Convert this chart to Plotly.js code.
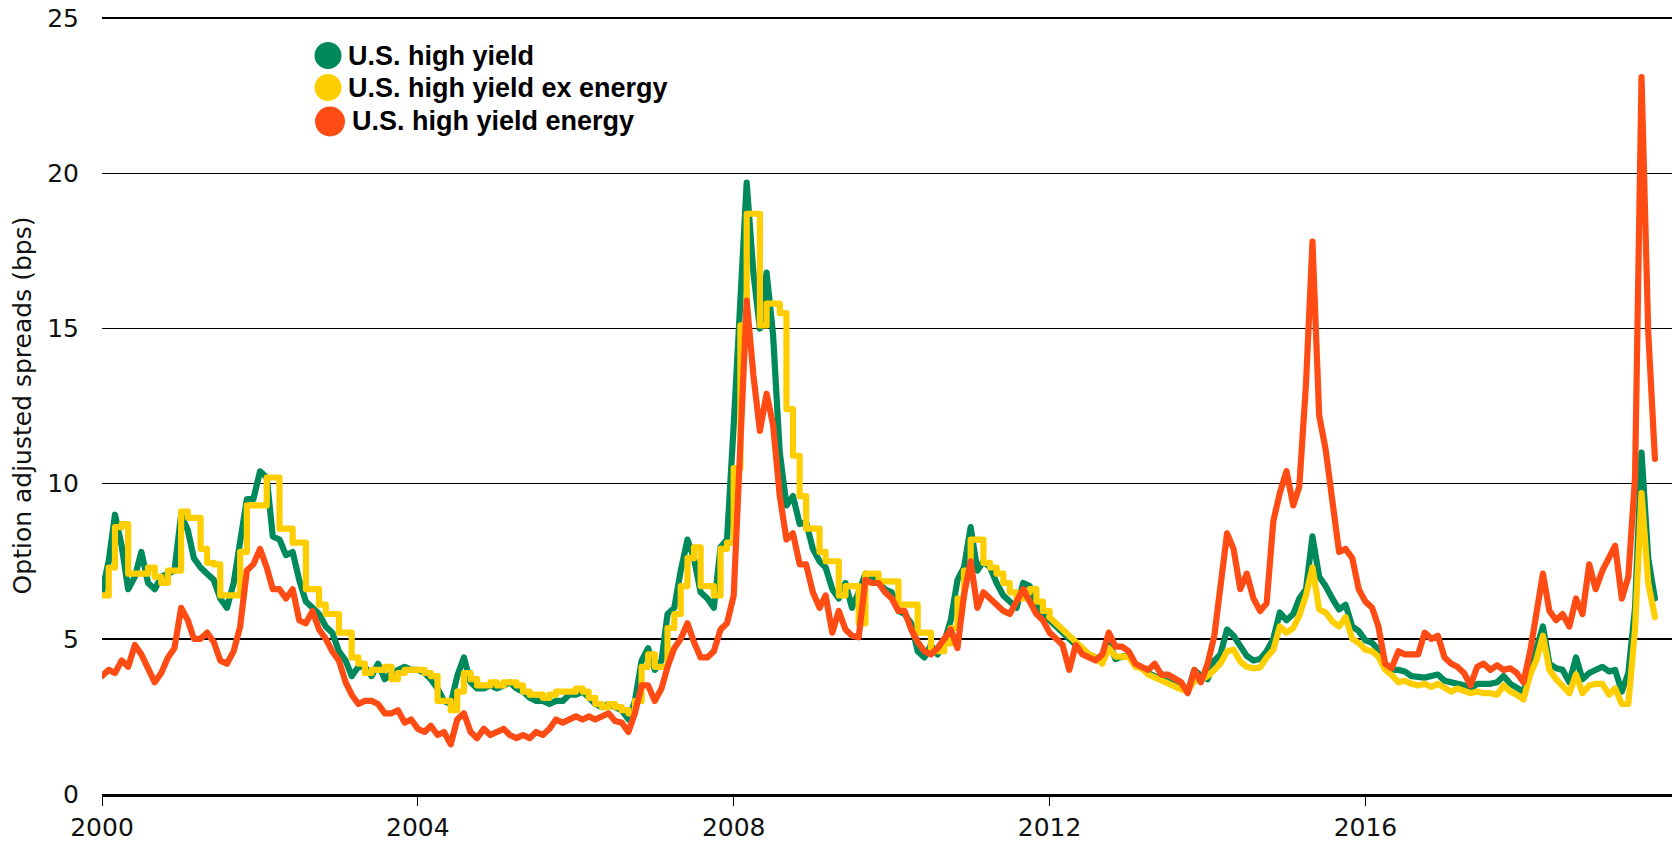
<!DOCTYPE html>
<html><head><meta charset="utf-8">
<script src="https://cdn.plot.ly/plotly-3.0.1.min.js"></script>
<style>
html,body{margin:0;padding:0;background:#fff}
.scatterlayer path.js-line{stroke-linejoin:round;stroke-linecap:round}
</style>
</head><body>
<div id="chart" style="width:1674px;height:842px"></div>
<script>
// Monthly observations, first month = January 2000
const firstYear = 2000;
const seriesNames = ['U.S. high yield', 'U.S. high yield ex energy', 'U.S. high yield energy'];
const xTickYears = ['2000', '2004', '2008', '2012', '2016'];
const yTickValues = [0, 5, 10, 15, 20, 25];
const yTitle = 'Option adjusted spreads (bps)';

const highYield = [
  6.5, 7.5, 9.0, 8.0, 6.6, 7.0, 7.8, 6.8, 6.6, 7.0, 7.1, 7.2,
  9.0, 8.5, 7.6, 7.3, 7.1, 6.9, 6.3, 6.0, 6.8, 8.0, 9.5, 9.5,
  10.4, 10.2, 8.3, 8.2, 7.7, 7.8, 6.9, 6.2, 6.0, 5.8, 5.4, 5.2,
  4.6, 4.3, 3.8, 4.1, 4.1, 3.8, 4.2, 3.7, 3.9, 4.0, 4.1, 4.0,
  4.0, 3.9, 3.7, 3.4, 3.0, 2.9, 3.8, 4.4, 3.6, 3.4, 3.4, 3.5,
  3.4, 3.5, 3.6, 3.4, 3.3, 3.1, 3.0, 3.0, 2.9, 3.0, 3.0, 3.2,
  3.2, 3.3, 3.1, 2.9, 2.8, 2.9, 2.8, 2.7, 2.4, 3.0, 4.3, 4.7,
  4.0, 4.3, 5.8, 6.0, 7.2, 8.2, 7.6, 6.5, 6.3, 6.0, 7.95, 8.2,
  11.9, 15.5, 19.7, 16.8, 15.0, 16.8, 14.8, 11.0, 9.3, 9.6, 8.7, 8.75,
  7.9, 7.5, 7.3, 6.6, 6.3, 6.8, 6.0, 6.5, 7.1, 7.0, 6.8, 6.6,
  6.5, 5.9, 5.8, 5.5, 4.6, 4.4, 4.8, 4.5, 4.9, 5.6, 6.9, 7.3,
  8.6, 7.2, 7.5, 7.3, 6.8, 6.4, 6.2, 6.0, 6.8, 6.7, 6.1, 5.8,
  5.6, 5.4, 5.2, 5.0, 4.8, 4.6, 4.5, 4.4, 4.3, 4.9, 4.35, 4.43,
  4.45, 4.2, 4.05, 3.9, 3.8, 3.68, 3.62, 3.55, 3.44, 3.3, 4.0, 3.8,
  3.7, 4.3, 4.5, 5.3, 5.1, 4.75, 4.45, 4.3, 4.35, 4.6, 5.0, 5.85,
  5.6, 5.8, 6.3, 6.6, 8.3, 7.0, 6.7, 6.3, 5.95, 6.1, 5.4, 5.25,
  4.95, 4.87, 4.65, 4.1, 4.0, 4.0, 3.95, 3.8, 3.75, 3.75, 3.8, 3.85,
  3.65, 3.6, 3.6, 3.5, 3.4, 3.55, 3.55, 3.55, 3.6, 3.8, 3.55, 3.4,
  3.3, 4.0, 4.6, 5.4, 4.2, 4.05, 4.0, 3.6, 4.4, 3.7, 3.9, 4.0,
  4.1, 3.95, 4.0, 3.3, 3.9, 6.0, 11.0, 7.6, 6.3
];

const highYieldExEnergy = [
  6.4, 7.3, 8.6, 8.7, 7.1, 7.1, 7.1, 7.3, 7.0, 6.8, 7.2, 7.2,
  9.1, 8.9, 8.9, 7.9, 7.45, 7.4, 6.4, 6.4, 6.4, 7.8, 9.3, 9.3,
  9.3, 10.2, 10.2, 8.55, 8.55, 8.1, 8.1, 6.6, 6.6, 6.1, 5.8, 5.8,
  5.2, 5.2, 4.4, 4.2, 3.9, 4.0, 4.0, 4.1, 3.7, 3.9, 4.0, 4.0,
  4.0, 3.9, 3.8, 3.0, 3.0, 2.7, 3.3, 3.9, 3.7, 3.5, 3.5, 3.6,
  3.5, 3.6, 3.6, 3.5, 3.3, 3.2, 3.2, 3.1, 3.2, 3.3, 3.3, 3.3,
  3.4, 3.3, 3.1, 2.9, 2.8, 2.9, 2.8, 2.7, 2.6, 3.0, 4.1, 4.5,
  4.1, 4.1, 5.35, 5.8, 6.7, 7.6, 7.95, 6.7, 6.7, 6.4, 7.9, 8.1,
  10.5, 15.1, 18.7, 18.7, 15.1, 15.8, 15.8, 15.5, 12.4, 10.9, 9.6, 8.55,
  8.55, 7.8, 7.5, 7.5, 6.4, 6.7, 6.7, 5.5, 7.1, 7.1, 6.85, 6.85,
  6.85, 6.1, 6.1, 6.1, 5.2, 5.2, 4.6, 4.6, 4.85, 5.35, 6.3, 7.2,
  8.2, 8.2, 7.45, 7.3, 7.1, 6.8, 6.5, 6.3, 6.5, 6.6, 6.2, 5.9,
  5.7, 5.5, 5.3, 5.1, 4.9, 4.7, 4.5, 4.4, 4.2, 4.7, 4.43, 4.43,
  4.43, 4.1, 4.05, 3.85, 3.75, 3.65, 3.53, 3.47, 3.37, 3.32, 3.65, 3.68,
  3.8, 4.0, 4.2, 4.6, 4.65, 4.27, 4.1, 4.05, 4.08, 4.4, 4.65, 5.4,
  5.2, 5.35, 5.75, 6.4, 7.3, 5.95, 5.85, 5.56, 5.4, 5.7, 5.0, 4.87,
  4.65, 4.6, 4.43, 4.0, 3.84, 3.6, 3.65, 3.55, 3.5, 3.55, 3.45, 3.55,
  3.45, 3.3, 3.4, 3.3, 3.25, 3.3, 3.25, 3.25, 3.2, 3.5, 3.3, 3.2,
  3.05, 3.85, 4.3, 5.1, 4.0, 3.7, 3.5, 3.25, 3.85, 3.25, 3.5, 3.55,
  3.55, 3.2, 3.4, 2.9, 2.9, 5.3, 9.7, 6.8, 5.7
];

const highYieldEnergy = [
  3.8, 4.0, 3.9, 4.3, 4.1, 4.8, 4.5, 4.0, 3.6, 3.9, 4.4, 4.7,
  6.0, 5.6, 5.0, 5.0, 5.2, 4.9, 4.3, 4.2, 4.6, 5.4, 7.2, 7.4,
  7.9, 7.3, 6.6, 6.6, 6.3, 6.6, 5.6, 5.5, 5.9, 5.3, 5.0, 4.6,
  4.3, 3.6, 3.2, 2.9, 3.0, 3.0, 2.9, 2.6, 2.6, 2.7, 2.3, 2.4,
  2.1, 2.0, 2.2, 1.9, 2.0, 1.6, 2.4, 2.6, 2.0, 1.8, 2.1, 1.9,
  2.0, 2.1, 1.9, 1.8, 1.9, 1.8, 2.0, 1.9, 2.1, 2.4, 2.3, 2.4,
  2.5, 2.4, 2.5, 2.4, 2.5, 2.6, 2.35, 2.3, 2.0, 2.6, 3.5, 3.5,
  3.0, 3.4, 4.1, 4.7, 5.0, 5.5, 4.9, 4.4, 4.4, 4.6, 5.3, 5.5,
  6.4, 11.0, 15.9, 13.5, 11.7, 12.9, 11.9, 9.6, 8.2, 8.4, 7.4, 7.4,
  6.5, 6.0, 6.4, 5.2, 5.9, 5.3, 5.1, 5.05, 6.9, 6.8, 6.8, 6.5,
  6.3, 5.9, 5.9, 5.3, 4.9, 4.6, 4.5, 4.7, 5.0, 5.3, 4.7, 6.4,
  7.5, 6.0, 6.5, 6.3, 6.1, 5.9, 5.8, 6.2, 6.6, 6.2, 5.8, 5.6,
  5.2, 5.0, 4.8, 4.0, 4.8, 4.5, 4.4, 4.3, 4.5, 5.2, 4.75, 4.75,
  4.6, 4.2, 4.1, 4.0, 4.2, 3.85, 3.85, 3.73, 3.6, 3.25, 4.0, 3.6,
  4.2, 5.1, 6.8, 8.4, 7.9, 6.6, 7.1, 6.3, 5.9, 6.15, 8.8, 9.7,
  10.4, 9.3, 9.9, 13.2, 17.8, 12.2, 11.1, 9.5, 7.8, 7.9, 7.6, 6.6,
  6.2, 6.0, 5.4, 4.2, 4.05, 4.6, 4.5, 4.5, 4.5, 5.2, 5.0, 5.1,
  4.4, 4.2, 4.1, 3.9, 3.5, 4.1, 4.2, 4.0, 4.15, 4.0, 4.05, 3.9,
  3.6, 4.6, 5.7, 7.1, 5.9, 5.6, 5.8, 5.4, 6.3, 5.8, 7.4, 6.6,
  7.2, 7.6, 8.0, 6.3, 7.0, 10.2, 23.1, 14.9, 10.8
];

const colors = ['#008A5C', '#FFCE00', '#FF4B14'];

function monthDates(n) {
  const out = [];
  for (let k = 0; k < n; k++) {
    const y = firstYear + Math.floor(k / 12);
    const m = (k % 12) + 1;
    out.push(y + '-' + String(m).padStart(2, '0') + '-01');
  }
  return out;
}
const dates = monthDates(highYield.length);
const splitIdx = 144; // ex-energy series stepped (monthly) early, continuous later
const lineW = 6.2;

const traces = [
  {x: dates, y: highYield, name: seriesNames[0], type: 'scatter', mode: 'lines',
   line: {color: colors[0], width: lineW}},
  {x: dates.slice(0, splitIdx + 1), y: highYieldExEnergy.slice(0, splitIdx + 1), name: seriesNames[1],
   type: 'scatter', mode: 'lines', line: {color: colors[1], width: lineW, shape: 'hv'}},
  {x: dates.slice(splitIdx), y: highYieldExEnergy.slice(splitIdx), name: seriesNames[1],
   type: 'scatter', mode: 'lines', line: {color: colors[1], width: lineW}},
  {x: dates, y: highYieldEnergy, name: seriesNames[2], type: 'scatter', mode: 'lines',
   line: {color: colors[2], width: lineW}}
];

const plotL = 102, plotR = 1672, plotT = 17, plotB = 794;
const W = 1674, H = 842;
const px = v => (v - plotL) / (plotR - plotL);
const py = v => (plotB - v) / (plotB - plotT);

const legendItems = [
  {cx: 328, cy: 55.5, r: 13.5, tx: 346},
  {cx: 328, cy: 87.5, r: 13.5, tx: 346},
  {cx: 330, cy: 121.5, r: 15, tx: 350}
];

const shapes = legendItems.map((it, i) => ({
  type: 'circle', xref: 'paper', yref: 'paper', xsizemode: 'pixel', ysizemode: 'pixel',
  xanchor: px(it.cx), yanchor: py(it.cy), x0: -it.r, x1: it.r, y0: -it.r, y1: it.r,
  fillcolor: colors[i], line: {width: 0}
}));
const annotations = legendItems.map((it, i) => ({
  xref: 'paper', yref: 'paper', x: px(it.tx), y: py(it.cy), xanchor: 'left', yanchor: 'middle',
  text: '<b>' + seriesNames[i] + '</b>', showarrow: false,
  font: {family: 'Liberation Sans, Arial, sans-serif', size: 27, color: '#000'}
}));

const layout = {
  width: W, height: H,
  margin: {l: plotL, r: W - plotR, t: plotT, b: H - plotB, pad: 0},
  paper_bgcolor: '#fff', plot_bgcolor: '#fff',
  showlegend: false,
  font: {family: 'DejaVu Sans, sans-serif', size: 25, color: '#111'},
  xaxis: {
    type: 'date', range: ['2000-01-01', '2019-11-19'],
    tickvals: xTickYears.map(y => y + '-01-01'), ticktext: xTickYears,
    ticks: 'outside', ticklen: 9, tickwidth: 1, tickcolor: '#000',
    showline: true, linecolor: '#000', linewidth: 3,
    showgrid: false, zeroline: false,
    tickfont: {family: 'DejaVu Sans, sans-serif', size: 25, color: '#111'},
    ticklabelstandoff: 0, automargin: false
  },
  yaxis: {
    range: [0, 25.04], tickvals: yTickValues, ticktext: yTickValues.map(String),
    ticks: '', showgrid: true, gridcolor: '#000', gridwidth: 1.5,
    zeroline: false, showline: false,
    tickfont: {family: 'DejaVu Sans, sans-serif', size: 25, color: '#111'},
    ticklabelstandoff: 22, automargin: false,
    title: {text: yTitle, standoff: 8, font: {family: 'DejaVu Sans, sans-serif', size: 25, color: '#111'}}
  },
  shapes: shapes,
  annotations: annotations
};

Plotly.newPlot('chart', traces, layout, {displayModeBar: false, staticPlot: true});
</script>
</body></html>
